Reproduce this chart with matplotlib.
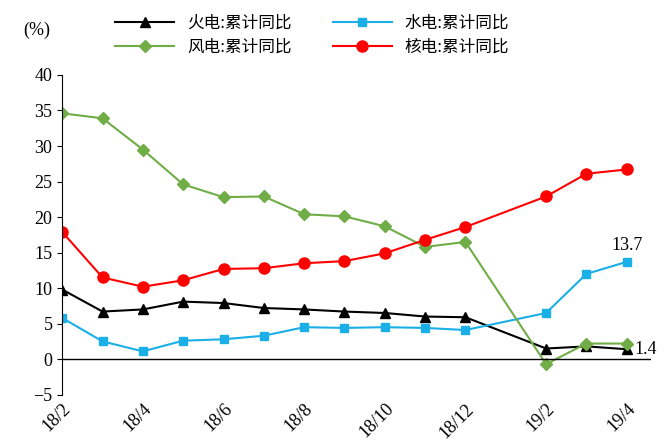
import numpy as np
import matplotlib.pyplot as plt

plt.rcParams['font.family'] = ['Liberation Serif', 'Noto Sans CJK SC']

months = ["18/2", "18/3", "18/4", "18/5", "18/6", "18/7", "18/8", "18/9", "18/10",
          "18/11", "18/12", "19/1", "19/2", "19/3", "19/4"]
thermal = [9.8, 6.7, 7.0, 8.1, 7.9, 7.2, 7.0, 6.7, 6.5, 6.0, 5.9, np.nan, 1.5, 1.8, 1.4]
hydro = [5.8, 2.5, 1.1, 2.6, 2.8, 3.3, 4.5, 4.4, 4.5, 4.4, 4.1, np.nan, 6.5, 12.0, 13.7]
wind = [34.6, 33.9, 29.5, 24.6, 22.8, 22.9, 20.4, 20.1, 18.7, 15.8, 16.5, np.nan, -0.7, 2.2, 2.2]
nuclear = [17.9, 11.5, 10.2, 11.1, 12.7, 12.8, 13.5, 13.8, 14.9, 16.8, 18.6, np.nan, 22.9, 26.1, 26.7]

x = np.arange(len(months))


def connect(v):
    # skip missing month so the line joins across it
    v = np.array(v)
    m = ~np.isnan(v)
    return x[m], v[m]


fig = plt.figure(figsize=(6.69, 4.41), dpi=100)
ax = fig.add_axes([0.093, 0.105, 0.88, 0.725])

h1, = ax.plot(*connect(thermal), color='black', marker='^', markersize=7, lw=1.5, label='火电:累计同比')
h2, = ax.plot(*connect(hydro), color='#1AAFE6', marker='s', markersize=6, lw=1.5, label='水电:累计同比')
h3, = ax.plot(*connect(wind), color='#70AD47', marker='D', markersize=6, lw=1.5, label='风电:累计同比')
h4, = ax.plot(*connect(nuclear), color='#FF0000', marker='o', markersize=8, lw=1.5, label='核电:累计同比')

ax.set_ylim(-5, 40)
ax.set_xlim(0, 14.6)
ax.set_yticks(range(-5, 41, 5))
ax.set_xticks(x[::2])
ax.set_xticklabels(months[::2], rotation=45, ha='right', rotation_mode='anchor')
ax.tick_params(labelsize=13)
for s in ['top', 'right', 'bottom']:
    ax.spines[s].set_visible(False)
ax.axhline(0, color='black', lw=1)
ax.tick_params(axis='x', length=0, pad=4)

ax.text(14, 14.8, '13.7', fontsize=13, ha='center', va='bottom')
ax.text(14.2, 1.4, '1.4', fontsize=13, ha='left', va='center')

fig.text(0.035, 0.92, '(%)', fontsize=13)
# column-major fill: 火电/风电 in first column, 水电/核电 in second
fig.legend([h1, h3, h2, h4], [h.get_label() for h in [h1, h3, h2, h4]],
           loc='upper left', bbox_to_anchor=(0.15, 1.0), ncol=2, frameon=False,
           prop={'family': ['Noto Sans CJK SC'], 'size': 12}, columnspacing=2.5,
           handlelength=3.5, labelspacing=0.4)

fig.savefig('out.png')
